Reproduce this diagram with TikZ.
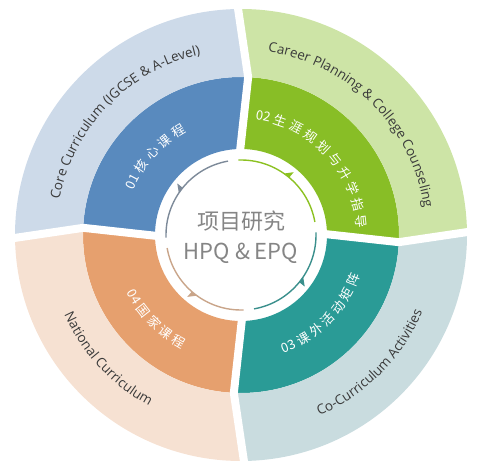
\documentclass[tikz,border=0pt]{standalone}
\usepackage{fontspec}
\setmainfont{Noto Sans CJK SC}
\newfontfamily\latinfam{Open Sans}
\newfontfamily\cjkfam[WordSpace=1.15]{Noto Sans CJK SC}
\usetikzlibrary{decorations.text}
\definecolor{tlout}{HTML}{CDDAE9}
\definecolor{tlin}{HTML}{598ABE}
\definecolor{trout}{HTML}{CDE4A6}
\definecolor{trin}{HTML}{88BE26}
\definecolor{brout}{HTML}{C9DCDF}
\definecolor{brin}{HTML}{2A9B96}
\definecolor{blout}{HTML}{F6E1D2}
\definecolor{blin}{HTML}{E6A06E}
\definecolor{tlarc}{HTML}{7D8A99}
\definecolor{trarc}{HTML}{8CC122}
\definecolor{brarc}{HTML}{3A8F8C}
\definecolor{blarc}{HTML}{C9A58A}
\definecolor{outtext}{HTML}{3A3A3A}
\definecolor{centertext}{HTML}{858585}
\newcommand\ofont{\latinfam\fontsize{13.5}{14}\selectfont\color{outtext}}
\newcommand\ifont{\cjkfam\fontsize{13}{14}\selectfont\color{white}}
\begin{document}
\begin{tikzpicture}[x=1pt,y=1pt,
  gapline/.style={draw=white,line width=8pt,line join=miter},
  thinarc/.style={line width=1.4pt},
  ctext/.style={text=centertext,font=\fontsize{22}{24}\selectfont,inner sep=0pt}]
\useasboundingbox (0,0) rectangle (484,474);
\begin{scope}[shift={(241,239)}]
% top-right quadrant
\fill[trin] (1:86) -- (-2.6:158) arc[start angle=-2.6,end angle=87.4,radius=158] -- (91:86) arc[start angle=91,end angle=1,radius=86] -- cycle;
\fill[trout] (-2.6:158) -- (1:226) arc[start angle=1,end angle=91,radius=226] -- (87.4:158) arc[start angle=87.4,end angle=-2.6,radius=158] -- cycle;
% top-left quadrant
\fill[tlin] (91:86) -- (87.4:158) arc[start angle=87.4,end angle=177.4,radius=158] -- (181:86) arc[start angle=181,end angle=91,radius=86] -- cycle;
\fill[tlout] (87.4:158) -- (91:226) arc[start angle=91,end angle=181,radius=226] -- (177.4:158) arc[start angle=177.4,end angle=87.4,radius=158] -- cycle;
% bottom-left quadrant
\fill[blin] (181:86) -- (177.4:158) arc[start angle=177.4,end angle=267.4,radius=158] -- (271:86) arc[start angle=271,end angle=181,radius=86] -- cycle;
\fill[blout] (177.4:158) -- (181:226) arc[start angle=181,end angle=271,radius=226] -- (267.4:158) arc[start angle=267.4,end angle=177.4,radius=158] -- cycle;
% bottom-right quadrant
\fill[brin] (271:86) -- (267.4:158) arc[start angle=267.4,end angle=357.4,radius=158] -- (361:86) arc[start angle=361,end angle=271,radius=86] -- cycle;
\fill[brout] (267.4:158) -- (271:226) arc[start angle=271,end angle=361,radius=226] -- (357.4:158) arc[start angle=357.4,end angle=267.4,radius=158] -- cycle;
% white gaps
\draw[gapline] (1:80) -- (-2.6:158) -- (1:234);
\draw[gapline] (91:80) -- (87.4:158) -- (91:234);
\draw[gapline] (181:80) -- (177.4:158) -- (181:234);
\draw[gapline] (271:80) -- (267.4:158) -- (271:234);
% outer ring texts
\path[decorate,decoration={text along path,text align=center,text={|\ofont|Core Curriculum (IGCSE \string& A-Level)}}] (174:185) arc[start angle=174,end angle=97.5,radius=185];
\path[decorate,decoration={text along path,text align=center,text={|\ofont|Career Planning \string& College Counseling}}] (84.3:185) arc[start angle=84.3,end angle=5.7,radius=185];
\path[decorate,decoration={text along path,text align=center,text={|\ofont|Co-Curriculum Activities}}] (-70:197) arc[start angle=-70,end angle=-19.5,radius=197];
\path[decorate,decoration={text along path,text align=center,text={|\ofont|National Curriculum}}] (201.5:194) arc[start angle=201.5,end angle=244.5,radius=194];
% inner ring texts (spaces give the letter spacing of the original)
\path[decorate,decoration={text along path,text align=center,text={|\ifont|01 核 心 课 程}}] (160.5:116) arc[start angle=160.5,end angle=114.6,radius=116];
\path[decorate,decoration={text along path,text align=center,text={|\ifont|02 生 涯 规 划 与 升 学 指 导}}] (82:116) arc[start angle=82,end angle=4,radius=116];
\path[decorate,decoration={text along path,text align=center,text={|\ifont|03 课 外 活 动 矩 阵}}] (-74:126) arc[start angle=-74,end angle=-15,radius=126];
\path[decorate,decoration={text along path,text align=center,text={|\ifont|04 国 家 课 程}}] (204:128) arc[start angle=204,end angle=245.5,radius=128];
% thin inner arcs with arrow marks
\draw[thinarc,trarc] (10:75) arc[start angle=10,end angle=92,radius=75];
\fill[trarc] (55:75) -- (50:75) -- (50:82) -- cycle;
\draw[thinarc,tlarc] (100:75) arc[start angle=100,end angle=182,radius=75];
\fill[tlarc] (146:75) -- (141:75) -- (141:82) -- cycle;
\draw[thinarc,blarc] (190:75) arc[start angle=190,end angle=272,radius=75];
\fill[blarc] (234:75) -- (229:75) -- (229:82) -- cycle;
\draw[thinarc,brarc] (280:75) arc[start angle=280,end angle=362,radius=75];
\fill[brarc] (326:75) -- (321:75) -- (321:82) -- cycle;
% centre texts
\node[ctext] (title) at (0,14) {项目研究};
\node[ctext] (subtitle) at (0,-18) {HPQ \& EPQ};
\end{scope}
\end{tikzpicture}
\end{document}
